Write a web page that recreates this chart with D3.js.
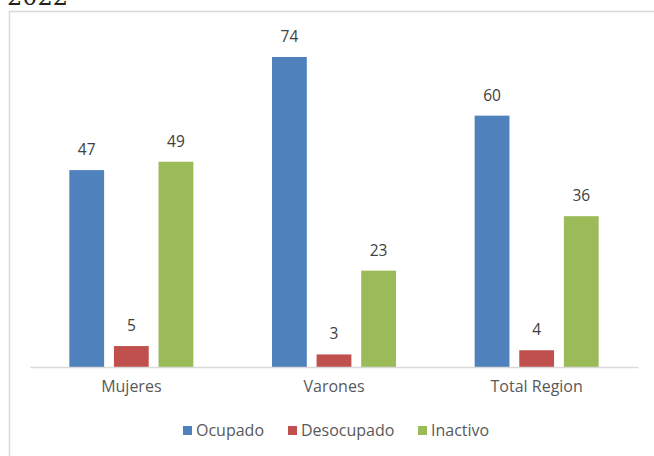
<!DOCTYPE html>
<html><head><meta charset="utf-8">
<script src="https://cdn.jsdelivr.net/npm/d3@7"></script>
<style>body{margin:0;background:#fff;}svg{display:block;}</style>
</head><body>
<script>
const categories = ["Mujeres", "Varones", "Total Region"];
const seriesNames = ["Ocupado", "Desocupado", "Inactivo"];
const ocupado = [47, 74, 60];
const desocupado = [5, 3, 4];
const inactivo = [49, 23, 36];
const colors = ["#4F81BD", "#C0504D", "#9BBB59"];

const W = 654, H = 456;
const svg = d3.select("body").append("svg").attr("width", W).attr("height", H);
const font = "'Open Sans', 'Noto Sans', sans-serif";

svg.append("text").attr("x", 7).attr("y", 5).attr("font-family", "'DejaVu Serif', 'Liberation Serif', serif")
  .attr("font-size", 24).attr("fill", "#222").text("2022");

svg.append("rect").attr("x", 9.5).attr("y", 11.5).attr("width", 700).attr("height", 500)
  .attr("fill", "none").attr("stroke", "#d9d9d9").attr("stroke-width", 1.5);

const data = categories.map((c, i) => ({cat: c, vals: [ocupado[i], desocupado[i], inactivo[i]]}));
const x0 = d3.scaleBand().domain(categories).range([30, 638]);
const x1 = d3.scaleBand().domain(seriesNames).range([-62, 62]).paddingInner(0.22);
const baseY = 367;
const y = d3.scaleLinear().domain([0, 74]).range([baseY, 57]);

const g = svg.append("g");
data.forEach(d => {
  const cx = x0(d.cat) + x0.bandwidth() / 2;
  d.vals.forEach((v, j) => {
    const bx = cx + x1(seriesNames[j]);
    g.append("rect").attr("x", bx).attr("y", y(v)).attr("width", x1.bandwidth())
      .attr("height", baseY - y(v)).attr("fill", colors[j]);
    g.append("text").attr("x", bx + x1.bandwidth() / 2).attr("y", y(v) - 15)
      .attr("text-anchor", "middle").attr("font-family", font).attr("font-size", 15.5)
      .attr("fill", "#404040").text(v);
  });
});

const xAxis = svg.append("g").attr("transform", `translate(0,${baseY})`)
  .call(d3.axisBottom(x0).tickSize(0).tickPadding(14));
xAxis.select(".domain").attr("stroke", "#d9d9d9").attr("stroke-width", 1.5);
xAxis.selectAll("text").attr("font-family", font).attr("font-size", 16).attr("fill", "#595959");

const legend = svg.append("g");
const legX = [183, 288, 418];
seriesNames.forEach((s, j) => {
  legend.append("rect").attr("x", legX[j]).attr("y", 426).attr("width", 9).attr("height", 9).attr("fill", colors[j]);
  legend.append("text").attr("x", legX[j] + 13).attr("y", 436).attr("font-family", font)
    .attr("font-size", 16).attr("fill", "#595959").text(s);
});
</script>
</body></html>
